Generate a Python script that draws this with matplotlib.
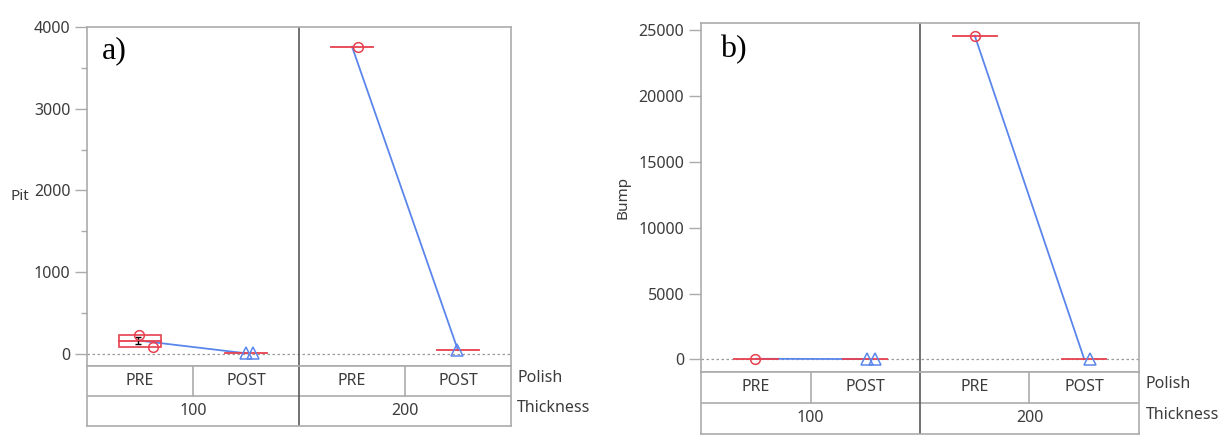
import numpy as np
import matplotlib.pyplot as plt
from matplotlib.ticker import MultipleLocator

# cells: Polish within Thickness
polish = ['PRE', 'POST', 'PRE', 'POST']
thickness = ['100', '200']

# Pit (panel a), one list per cell
pit_cells = [[235, 90], [6, 10], [3760], [45]]
pit_jitter = [[-0.01, 0.12], [0.0, 0.07], [0.06], [-0.01]]

# Bump (panel b)
bump_cells = [[40], [10, 25], [24600], [20]]
bump_jitter = [[-0.01], [0.02, 0.09], [0.0], [0.05]]

red = '#e8404f'
blue = '#5a86ec'
frame = '#ababab'
divider = '#5a5a5a'
txt = '#3c3c3c'

plt.rcParams['font.family'] = ['Noto Sans', 'DejaVu Sans']

fig = plt.figure(figsize=(12.26, 4.41), dpi=100)


def panel(rect, trect, cells, jitter, ylim, ymajor, yminor, ylabel, tag, tagpos, label_rot):
    ax = fig.add_axes(rect)
    at = fig.add_axes(trect)
    for a in (ax, at):
        a.set_xlim(0, 4)
        for s in a.spines.values():
            s.set_color(frame)
            s.set_linewidth(1.2)
    ax.set_ylim(*ylim)
    ax.set_xticks([])
    ax.yaxis.set_major_locator(MultipleLocator(ymajor))
    if yminor:
        ax.yaxis.set_minor_locator(MultipleLocator(yminor))
    ax.tick_params(axis='y', which='major', length=9, width=1, color=frame,
                   labelsize=11.5, labelcolor=txt, pad=3)
    ax.tick_params(axis='y', which='minor', length=4, width=1, color=frame)

    ax.axhline(0, color='#9a9a9a', lw=0.9, ls=(0, (2, 2)), zorder=1)
    ax.axvline(2, color=divider, lw=1.2, zorder=2)

    half = 0.2
    means = [np.mean(c) for c in cells]
    for i, (vals, jit) in enumerate(zip(cells, jitter)):
        cx = i + 0.5
        if len(vals) > 1 and i % 2 == 0:
            lo, hi = min(vals), max(vals)
            ax.add_patch(plt.Rectangle((cx - half, lo), 2 * half, hi - lo,
                                       fill=False, ec=red, lw=1.2, zorder=4))
            ax.errorbar(cx - 0.02, means[i], yerr=(hi - lo) * 0.3, color='black',
                        lw=1, capsize=2, zorder=5)
        ax.plot([cx - half, cx + half], [means[i]] * 2, color=red, lw=1.3, zorder=4)
        mk = 'o' if i % 2 == 0 else '^'
        col = red if i % 2 == 0 else blue
        ax.plot(cx + np.array(jit), vals, ls='none', marker=mk, ms=8 if mk == '^' else 7,
                mfc='none', mec=col, mew=1.1, zorder=6)
    for g in range(2):
        ax.plot([2 * g + 0.5, 2 * g + 1.5], means[2 * g:2 * g + 2], color=blue,
                lw=1.3, zorder=3)

    if label_rot:
        ax.set_ylabel(ylabel, fontsize=11, color=txt, labelpad=6)
    else:
        ax.set_ylabel(ylabel, fontsize=11, color=txt, rotation=0, labelpad=10,
                      va='center')
    ax.text(tagpos[0], tagpos[1], tag, transform=ax.transAxes, fontsize=23,
            family='Liberation Serif', va='center', ha='left')

    # grouping table under the plot
    at.set_ylim(0, 2)
    at.set_xticks([])
    at.set_yticks([])
    at.axhline(1, color=frame, lw=1.2)
    for x in (1, 3):
        at.plot([x, x], [1, 2], color=frame, lw=1.2)
    at.axvline(2, color=divider, lw=1.2)
    for i, p in enumerate(polish):
        at.text(i + 0.5, 1.5, p, ha='center', va='center', fontsize=11.5, color=txt)
    for g, t in enumerate(thickness):
        at.text(2 * g + 1, 0.5, t, ha='center', va='center', fontsize=11.5, color=txt)
    at.text(1.015, 0.8, 'Polish', transform=at.transAxes, ha='left', va='center',
            fontsize=11.5, color=txt)
    at.text(1.015, 0.3, 'Thickness', transform=at.transAxes, ha='left', va='center',
            fontsize=11.5, color=txt)
    return ax


panel([0.0710, 0.1701, 0.3458, 0.7687], [0.0710, 0.0340, 0.3458, 0.1361],
      pit_cells, pit_jitter, (-147, 4000), 1000, 500, 'Pit', 'a)', (0.035, 0.93), False)
panel([0.5718, 0.1565, 0.3572, 0.7913], [0.5718, 0.0159, 0.3572, 0.1406],
      bump_cells, bump_jitter, (-964, 25555), 5000, None, 'Bump', 'b)', (0.043, 0.925), True)

fig.savefig('out.png', dpi=100)
